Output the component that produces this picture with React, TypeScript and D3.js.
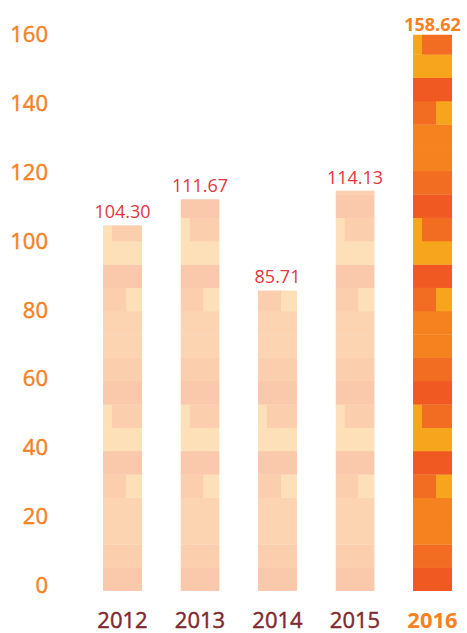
import React from 'react';
import * as d3 from 'd3';

const years = ['2012', '2013', '2014', '2015', '2016'];
const values = [104.3, 111.67, 85.71, 114.13, 158.62];
const valueLabels = ['104.30', '111.67', '85.71', '114.13', '158.62'];
const highlightYear = '2016';
const yTicks = [0, 20, 40, 60, 80, 100, 120, 140, 160];

const W = 467;
const H = 633;
const FONT = '"Open Sans", "Noto Sans", sans-serif';

const orange = { dark: '#F05A22', mid: '#F26C21', base: '#F5821F', light: '#F7A51C' };
const pale = { dark: '#FAC8AB', mid: '#FBCEAE', base: '#FCD4B2', light: '#FDE0B7' };

// pattern blocks stacked from the baseline up: [x0 frac, x1 frac, colour key]
const patternBlocks: [number, number, keyof typeof orange][][] = [
  [[0, 1, 'dark']],
  [[0, 1, 'mid']],
  [[0, 1, 'base']],
  [[0, 1, 'base']],
  [[0, 23 / 39, 'mid'], [23 / 39, 1, 'light']],
  [[0, 1, 'dark']],
  [[0, 1, 'light']],
  [[0, 9 / 39, 'light'], [9 / 39, 1, 'mid']],
];
const BLOCK_PX = 70 / 3;

export default function App() {
  const x = d3.scaleBand<string>().domain(years).range([103, 452]).paddingInner(0.497).paddingOuter(0);
  const y = d3.scaleLinear().domain([0, 160]).range([591, 591 - 160 * 3.507]);
  const yLabel = d3.scaleLinear().domain([0, 160]).range([593, 42]);
  const bw = x.bandwidth();

  return (
    <svg width={W} height={H} style={{ position: 'absolute', left: 0, top: 0, background: '#fff' }}>
      <defs>
        {years.map((yr, i) => (
          <clipPath id={`clip-${yr}`} key={yr}>
            <rect x={x(yr)} y={y(values[i])} width={bw} height={y(0) - y(values[i])} />
          </clipPath>
        ))}
      </defs>
      {yTicks.map((t) => (
        <text
          key={t}
          x={48}
          y={yLabel(t)}
          textAnchor="end"
          fill="#F5821F"
          stroke="#F5821F"
          strokeWidth={0.45}
          fontFamily={FONT}
          fontSize={22}
        >
          {t}
        </text>
      ))}
      {years.map((yr, i) => {
        const x0 = x(yr) as number;
        const top = y(values[i]);
        const base = y(0);
        const pal = yr === highlightYear ? orange : pale;
        const n = Math.ceil((base - top) / BLOCK_PX);
        const rects: React.ReactNode[] = [];
        for (let k = 0; k < n; k++) {
          const blk = patternBlocks[k % patternBlocks.length];
          const by = base - (k + 1) * BLOCK_PX;
          blk.forEach(([a, b, c], j) => {
            rects.push(
              <rect key={`${k}-${j}`} x={x0 + a * bw} y={by} width={(b - a) * bw + 0.3} height={BLOCK_PX + 0.3} fill={pal[c]} />
            );
          });
        }
        const hl = yr === highlightYear;
        return (
          <g key={yr}>
            <g clipPath={`url(#clip-${yr})`}>{rects}</g>
            <text
              x={x0 + bw / 2}
              y={top - (hl ? 4 : 7)}
              textAnchor="middle"
              fill={hl ? '#F5821F' : '#E0383E'}
              fontWeight={hl ? 700 : 400}
              fontFamily={FONT}
              fontSize={18}
            >
              {valueLabels[i]}
            </text>
            <text
              x={x0 + bw / 2}
              y={628}
              textAnchor="middle"
              fill={hl ? '#F5821F' : '#7F2A2E'}
              stroke={hl ? 'none' : '#7F2A2E'}
              strokeWidth={0.45}
              fontWeight={hl ? 700 : 400}
              fontFamily={FONT}
              fontSize={22}
            >
              {yr}
            </text>
          </g>
        );
      })}
    </svg>
  );
}
